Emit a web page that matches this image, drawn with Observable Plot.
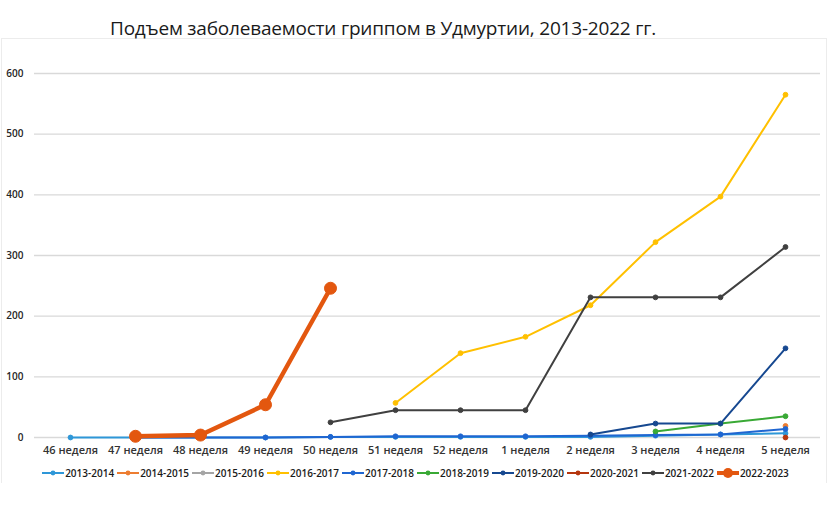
<!DOCTYPE html>
<html>
<head>
<meta charset="utf-8">
<script src="https://cdn.jsdelivr.net/npm/d3@7"></script>
<script src="https://cdn.jsdelivr.net/npm/@observablehq/plot@0.6"></script>
<style>
  html, body { margin: 0; padding: 0; background: #fff; }
  #wrap { position: relative; width: 831px; height: 520px; font-family: "Open Sans", "DejaVu Sans", sans-serif; }
  #frame { position: absolute; left: 1px; top: 38px; width: 826px; height: 445px; border: 1px solid #ececec; border-bottom: none; box-sizing: border-box; }
  #title { position: absolute; top: 15px; left: 0; width: 766px; text-align: center; font-size: 19px; color: #1a1a1a; letter-spacing: -0.2px; white-space: nowrap; }
  #chart { position: absolute; top: 45px; left: 0; }
  #legend { position: absolute; top: 466px; left: 0; width: 831px; display: flex; justify-content: center; gap: 3px; font-size: 10px; font-weight: 600; color: #1a1a1a; white-space: nowrap; }
  #legend .item { display: flex; align-items: center; gap: 1px; white-space: nowrap; }
</style>
</head>
<body>
<div id="wrap">
  <div id="frame"></div>
  <div id="title">Подъем заболеваемости гриппом в Удмуртии, 2013-2022 гг.</div>
  <div id="chart"></div>
  <div id="legend"></div>
</div>
<script>
const weeks = ["46 неделя","47 неделя","48 неделя","49 неделя","50 неделя","51 неделя","52 неделя","1 неделя","2 неделя","3 неделя","4 неделя","5 неделя"];
const seriesNames = ["2013-2014","2014-2015","2015-2016","2016-2017","2017-2018","2018-2019","2019-2020","2020-2021","2021-2022","2022-2023"];
const seriesColors = ["#2e97d8","#ed7d31","#a5a5a5","#ffc000","#1f66d1","#39a935","#164890","#b5360e","#404040","#e3570f"];
const yTicks = [0,100,200,300,400,500,600];

const v2013_2014 = [0, 0, 0, 0, 1, 1, 1, 1, 1, 3, 5, 7];
const v2014_2015 = [null, null, null, null, null, null, null, null, null, null, null, 19];
const v2015_2016 = [null, null, null, null, null, null, null, null, null, null, null, null];
const v2016_2017 = [null, null, null, null, null, 57, 139, 166, 218, 322, 397, 565];
const v2017_2018 = [null, 0, 0, 0, 1, 2, 2, 2, 3, 4, 5, 14];
const v2018_2019 = [null, null, null, null, null, null, null, null, null, 10, 23, 35];
const v2019_2020 = [null, null, null, null, null, null, null, null, 5, 23, 23, 147];
const v2020_2021 = [null, null, null, null, null, null, null, null, null, null, null, 0];
const v2021_2022 = [null, null, null, null, 25, 45, 45, 45, 231, 231, 231, 314];
const v2022_2023 = [null, 2, 4, 54, 246, null, null, null, null, null, null, null];

const seriesValues = [v2013_2014, v2014_2015, v2015_2016, v2016_2017, v2017_2018, v2018_2019, v2019_2020, v2020_2021, v2021_2022, v2022_2023];

const table = [];
seriesNames.forEach((s, i) => {
  seriesValues[i].forEach((v, j) => {
    table.push({series: s, week: weeks[j], value: v});
  });
});

const isBold = s => s === "2022-2023";
const marks = [];
seriesNames.forEach(s => {
  const rows = table.filter(d => d.series === s);
  const pts = rows.filter(d => d.value != null);
  marks.push(Plot.line(rows, {x: "week", y: "value", stroke: "series", strokeWidth: isBold(s) ? 4.5 : 2, curve: "linear"}));
  marks.push(Plot.dot(pts, {x: "week", y: "value", fill: "series", stroke: "series", r: isBold(s) ? 6 : 2.4, strokeWidth: 1}));
});

const chart = Plot.plot({
  width: 831,
  height: 420,
  marginTop: 28,
  marginBottom: 28,
  marginLeft: 34,
  marginRight: 11,
  style: {fontFamily: "'Open Sans', 'DejaVu Sans', sans-serif", background: "transparent"},
  x: {type: "point", domain: weeks, padding: 0.5, label: null},
  y: {domain: [0, 600], ticks: yTicks, label: null},
  color: {domain: seriesNames, range: seriesColors},
  marks: [
    Plot.ruleY(yTicks, {y: d => d, stroke: "#d9d9d9", strokeWidth: 1.3}),
    Plot.axisY({ticks: yTicks, tickSize: 0, tickPadding: 11, fontSize: 10, fontWeight: 600, fill: "#262626", label: null}),
    Plot.axisX({tickSize: 0, tickPadding: 9, fontSize: 11, fontWeight: 600, fill: "#333", label: null}),
    ...marks
  ]
});
document.getElementById("chart").appendChild(chart);

const legend = document.getElementById("legend");
seriesNames.forEach((s, i) => {
  const item = document.createElement("div");
  item.className = "item";
  const bold = isBold(s);
  item.innerHTML = `<svg width="22" height="14"><line x1="0" x2="22" y1="7" y2="7" stroke="${seriesColors[i]}" stroke-width="${bold ? 4 : 2}"/><circle cx="11" cy="7" r="${bold ? 5 : 2.4}" fill="${seriesColors[i]}"/></svg><span>${s}</span>`;
  legend.appendChild(item);
});
</script>
</body>
</html>
